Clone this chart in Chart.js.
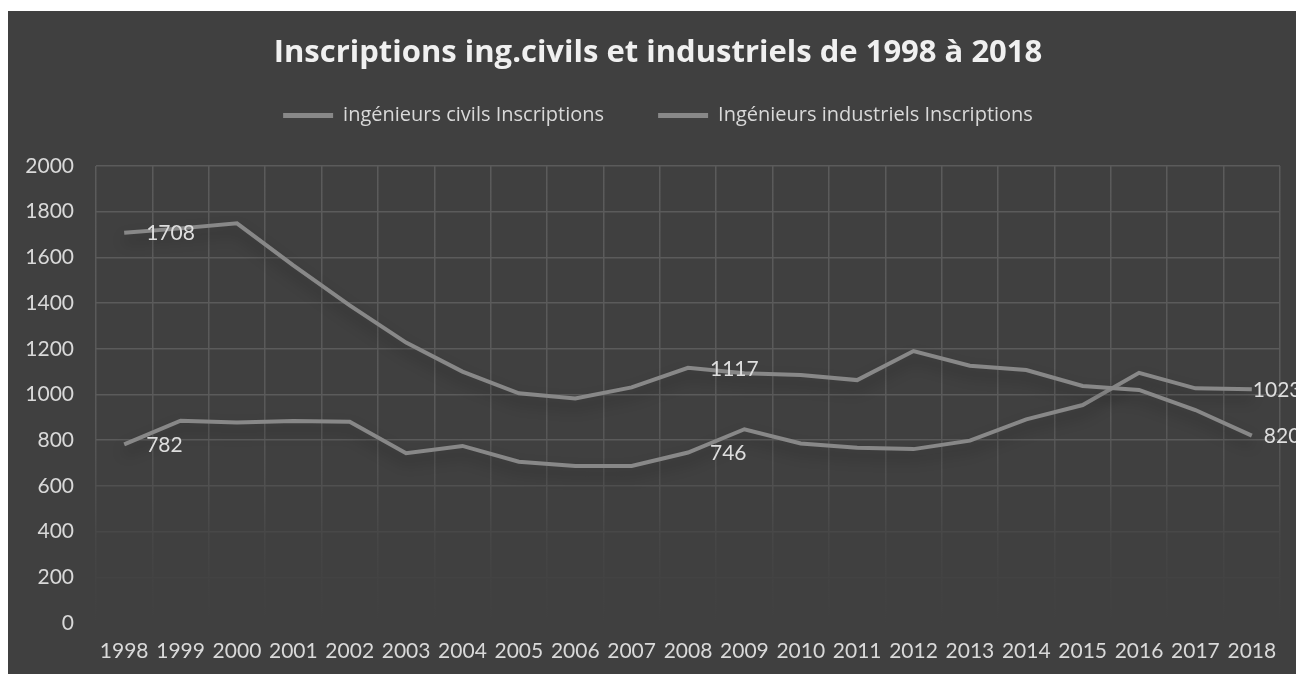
<!DOCTYPE html>
<html>
<head>
<meta charset="utf-8">
<script src="https://cdn.jsdelivr.net/npm/chart.js@4"></script>
<style>
  html, body { margin: 0; padding: 0; background: #ffffff; }
  #wrap { position: absolute; left: 8px; top: 11px; width: 1288px; height: 663px; background: #404040; }
</style>
</head>
<body>
<div id="wrap"><canvas id="c"></canvas></div>
<script>
// ---- data ----
const years = ['1998','1999','2000','2001','2002','2003','2004','2005','2006','2007','2008','2009','2010','2011','2012','2013','2014','2015','2016','2017','2018'];
const civils = [1708, 1727, 1749, 1565, 1390, 1227, 1100, 1005, 983, 1031, 1117, 1093, 1085, 1063, 1190, 1126, 1107, 1037, 1020, 932, 820];
const industriels = [782, 885, 878, 884, 881, 743, 775, 706, 687, 687, 746, 848, 786, 767, 761, 798, 891, 954, 1095, 1027, 1023];
const seriesNames = ['ingénieurs civils Inscriptions', 'Ingénieurs industriels Inscriptions'];
const labeledIndex = [0, 10, 20];
const yMin = 0, yMax = 2000, yStep = 200;
const titleText = 'Inscriptions ing.civils et industriels de 1998 à 2018';

// ---- styles ----
const FONT = 'Lato';
const HFONT = '"Open Sans"';
const LINE = '#888888';
const TXT = '#d9d9d9';
const labelDx = [[22, 22, 12], [22, 22, 1]];

function xGridColor(ctx) {
  const c = ctx.chart, a = c.chartArea;
  if (!a) return '#5a5a5a';
  const g = c.ctx.createLinearGradient(0, a.top, 0, a.bottom);
  g.addColorStop(0, '#5b5b5b');
  g.addColorStop(0.55, '#595959');
  g.addColorStop(0.72, '#4e4e4e');
  g.addColorStop(0.82, '#464646');
  g.addColorStop(0.92, '#424242');
  g.addColorStop(1, '#404040');
  return g;
}
function yGridColor(ctx) {
  const v = ctx.tick ? ctx.tick.value : 2000;
  if (v >= 800) return '#5b5b5b';
  if (v >= 600) return '#505050';
  if (v >= 400) return '#484848';
  if (v >= 200) return '#434343';
  return 'rgba(0,0,0,0)';
}

const legendGap = {
  id: 'legendGap',
  beforeInit(chart) {
    const f = chart.legend.fit;
    chart.legend.fit = function () { f.bind(this)(); this.height += 30.4; };
  }
};

const shadowAndLabels = {
  id: 'shadowAndLabels',
  beforeDatasetsDraw(chart) {
    const ctx = chart.ctx;
    ctx.save();
    ctx.shadowColor = 'rgba(0,0,0,0.30)';
    ctx.shadowBlur = 14;
    ctx.shadowOffsetY = 8;
  },
  afterDatasetsDraw(chart) {
    const ctx = chart.ctx;
    ctx.restore();
    ctx.save();
    ctx.font = '21px ' + FONT;
    ctx.fillStyle = '#dedede';
    ctx.textAlign = 'left';
    ctx.textBaseline = 'middle';
    chart.data.datasets.forEach((ds, di) => {
      const meta = chart.getDatasetMeta(di);
      labeledIndex.forEach((idx, k) => {
        const el = meta.data[idx];
        if (!el) return;
        ctx.fillText(String(ds.data[idx]), el.x + labelDx[di][k], el.y + 1);
      });
    });
    ctx.restore();
  }
};

new Chart(document.getElementById('c'), {
  type: 'line',
  data: {
    labels: years,
    datasets: [
      { label: seriesNames[0], data: civils, borderColor: LINE, backgroundColor: LINE, borderWidth: 4, pointRadius: 0, tension: 0 },
      { label: seriesNames[1], data: industriels, borderColor: LINE, backgroundColor: LINE, borderWidth: 4, pointRadius: 0, tension: 0 }
    ]
  },
  options: {
    responsive: true,
    maintainAspectRatio: false,
    animation: false,
    layout: { padding: { left: 28, right: 16, top: 0, bottom: 0 } },
    plugins: {
      title: {
        display: true,
        text: titleText,
        color: '#f0f0f0',
        font: { family: HFONT, size: 31, weight: 'bold', lineHeight: 1.2 },
        padding: { top: 24, bottom: -20.6 }
      },
      legend: {
        display: true,
        position: 'top',
        labels: {
          color: TXT,
          font: { family: HFONT, size: 20 },
          boxWidth: 50,
          boxHeight: 5,
          padding: 54,
          generateLabels(chart) {
            return Chart.defaults.plugins.legend.labels.generateLabels(chart).map(l => Object.assign(l, { lineWidth: 0, fillStyle: LINE, strokeStyle: LINE }));
          }
        }
      },
      tooltip: { enabled: false }
    },
    scales: {
      x: {
        offset: true,
        grid: { offset: true, color: xGridColor, lineWidth: 1.5, drawTicks: false },
        border: { display: false },
        ticks: { color: TXT, font: { family: FONT, size: 21 }, padding: 16, maxRotation: 0, autoSkip: false },
        afterFit(s) { s.height = 51; }
      },
      y: {
        min: yMin, max: yMax,
        grid: { color: yGridColor, lineWidth: 1.5, drawTicks: false },
        border: { display: false },
        ticks: { stepSize: yStep, color: TXT, font: { family: FONT, size: 21 }, padding: 22, callback: v => String(v) },
        afterFit(s) { s.width = 60; s._computeLabelArea = function () { return undefined; }; }
      }
    }
  },
  plugins: [legendGap, shadowAndLabels]
});
</script>
</body>
</html>
